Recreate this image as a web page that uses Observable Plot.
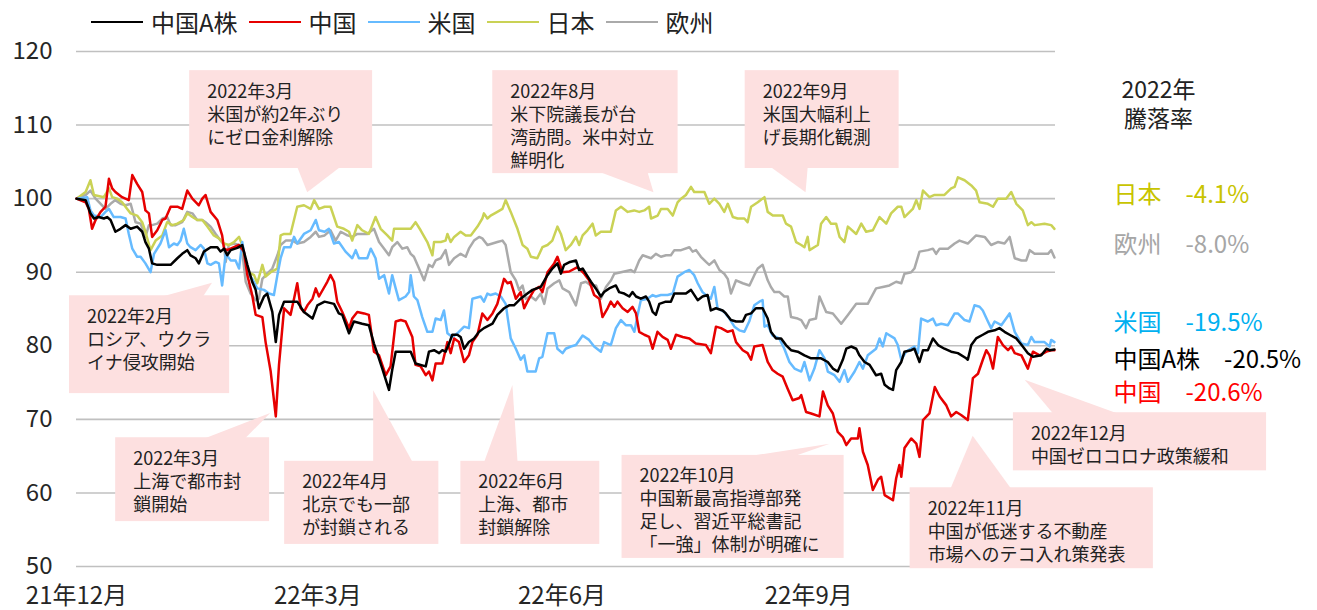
<!DOCTYPE html>
<html><head><meta charset="utf-8">
<script src="https://cdn.jsdelivr.net/npm/d3@7"></script>
<script src="https://cdn.jsdelivr.net/npm/@observablehq/plot@0.6"></script>
<style>
html,body{margin:0;padding:0;background:#fff;}
body{font-family:"Noto Sans CJK JP","Noto Sans",sans-serif;color:#222;}
#wrap{position:relative;width:1317px;height:610px;overflow:hidden;}
#legend{position:absolute;left:91px;top:8px;height:28px;display:flex;align-items:center;font-size:24px;line-height:28px;z-index:2;}
#legend .sw{display:inline-block;width:52px;height:0;border-top:2.5px solid;margin-right:8px;}
#legend .lb{margin-right:11px;color:#222;}
#chart{position:absolute;left:0;top:0;}
</style></head>
<body><div id="wrap"><div id="legend"></div><div id="chart"></div></div>
<script>
// ---- data (day offset from 2021-12-31, index value; start = 100) ----
const seriesNames = ["中国A株","中国","米国","日本","欧州"];
const seriesColors = ["#000000","#e60000","#66bbff","#cad255","#aaaaaa"];

const chinaA = [[0,100],[3.4,99.8],[5.2,98.0],[6.5,97.3],[8.3,97.5],[10.2,97.3],[11.4,97.5],[12.7,97.1],[14.5,95.5],[16.4,95.9],[18.3,96.4],[20.2,95.9],[22.6,96.2],[24.5,95.5],[25.7,94.1],[27.0,93.2],[28.2,91.2],[30.1,91.0],[35.1,91.0],[37.6,91.9],[39.4,92.5],[41.3,93.0],[42.5,92.3],[44.4,91.9],[45.6,91.2],[47.5,92.8],[50.0,93.4],[52.5,93.4],[53.7,92.8],[55.0,93.2],[56.2,92.3],[57.5,93.0],[60.0,93.3],[61.8,93.7],[63.7,91.0],[65.5,88.7],[66.8,87.6],[68.0,85.1],[69.9,86.7],[71.1,87.1],[73.0,84.6],[74.3,80.5],[75.5,84.2],[77.4,86.0],[82.3,86.0],[84.8,84.6],[88.0,83.7],[89.8,85.5],[92.5,86.0],[96.0,85.7],[97.8,84.4],[99.1,84.2],[101.6,81.7],[103.4,83.3],[106.5,83.0],[109.0,82.8],[110.9,80.3],[112.1,79.0],[114.0,76.9],[116.5,74.0],[117.7,76.7],[119.0,79.2],[124.6,79.2],[126.4,77.6],[130.2,77.2],[131.4,79.2],[133.3,79.4],[135.2,79.0],[136.4,79.4],[137.6,79.2],[138.9,80.3],[140.1,81.5],[142.0,81.5],[143.2,81.2],[144.5,79.6],[146.3,80.5],[148.2,81.0],[150.1,81.9],[151.9,82.4],[155.1,83.0],[156.9,84.2],[159.4,85.1],[161.3,85.5],[163.1,85.5],[165.6,86.4],[168.1,87.1],[170.0,87.6],[173.1,88.0],[175.6,89.6],[177.4,90.5],[179.3,91.2],[180.6,89.8],[181.8,91.0],[184.0,91.4],[186.2,91.6],[187.4,90.3],[188.7,90.5],[189.9,89.8],[191.8,88.7],[193.6,87.8],[195.5,86.7],[196.7,87.3],[198.6,87.8],[201.1,88.2],[202.3,87.3],[204.2,87.1],[206.1,86.7],[207.3,87.3],[208.6,86.7],[210.4,86.4],[212.3,86.7],[213.5,86.0],[214.8,84.6],[216.0,84.2],[217.3,85.7],[219.7,86.0],[221.6,86.0],[222.9,87.1],[227.2,87.1],[229.1,87.6],[231.6,86.2],[233.4,86.7],[235.3,86.9],[236.5,84.8],[238.4,85.1],[240.9,84.8],[242.1,84.4],[244.0,83.5],[245.9,83.3],[248.4,83.3],[249.6,84.2],[251.5,84.4],[253.3,85.1],[255.8,85.1],[257.7,83.7],[258.9,81.9],[260.8,81.0],[262.7,81.0],[264.5,80.1],[266.4,79.4],[268.9,79.2],[271.4,78.7],[273.9,78.3],[277.6,78.3],[280.1,77.8],[282.0,76.9],[283.8,76.5],[285.7,78.1],[287.0,79.6],[288.8,79.9],[290.7,79.6],[291.9,78.7],[293.8,77.8],[295.7,77.4],[298.1,76.0],[300.0,76.2],[301.3,74.7],[303.1,74.2],[304.4,74.0],[305.6,76.7],[307.5,77.8],[308.7,79.2],[311.2,79.4],[312.4,79.6],[314.3,77.8],[315.6,79.4],[317.4,79.4],[319.3,81.0],[321.2,80.1],[323.6,79.6],[326.1,79.2],[328.6,79.0],[331.7,78.3],[332.3,78.1],[333.6,80.1],[335.4,81.0],[337.9,81.5],[339.8,81.9],[342.3,82.1],[344.1,82.4],[346.0,81.9],[347.9,81.5],[350.4,81.0],[352.8,79.9],[354.7,79.0],[356.6,78.5],[359.7,78.7],[361.6,79.6],[362.8,79.4],[364.6,79.5]];

const china = [[0,100],[3.4,99.5],[4.6,98.6],[5.8,95.9],[7.1,97.1],[9.0,98.2],[10.8,98.9],[12.1,102.7],[13.3,101.4],[14.5,100.9],[17.0,100.2],[19.5,99.8],[20.8,103.2],[22.6,102.0],[24.5,100.9],[25.7,98.4],[27.0,98.0],[28.2,94.8],[30.1,95.7],[32.0,97.1],[33.2,97.3],[35.1,98.9],[37.6,98.9],[39.4,98.6],[41.3,101.1],[43.2,100.0],[45.6,99.1],[46.9,100.0],[48.1,100.5],[50.0,98.2],[52.5,97.1],[54.3,95.0],[55.0,93.2],[56.2,93.0],[58.7,93.4],[60.6,93.7],[62.4,92.8],[63.7,89.6],[65.5,86.9],[66.8,84.2],[69.3,83.9],[70.5,80.5],[72.4,76.5],[74.3,70.4],[75.5,77.4],[77.4,85.1],[79.8,84.2],[81.1,86.4],[82.3,88.5],[83.6,85.1],[84.8,84.6],[86.1,85.5],[88.0,86.4],[89.2,87.8],[90.4,86.7],[93.5,88.7],[94.7,89.6],[96.0,88.7],[97.2,86.0],[99.1,84.6],[101.6,82.4],[102.8,83.7],[104.7,84.6],[107.2,84.4],[109.0,84.2],[110.9,79.2],[112.8,78.7],[115.3,76.0],[117.1,77.2],[119.0,83.3],[120.9,83.5],[122.7,83.3],[125.2,81.2],[126.4,77.4],[128.3,77.2],[130.2,76.0],[131.4,76.5],[132.7,75.3],[133.9,77.6],[136.4,77.6],[138.3,80.5],[139.5,79.0],[140.8,81.0],[142.6,80.5],[144.5,77.8],[146.3,78.7],[147.6,80.5],[149.5,81.5],[151.3,84.4],[153.2,83.5],[155.1,84.4],[156.9,85.7],[159.4,89.1],[160.7,88.5],[161.9,88.7],[163.8,86.4],[165.6,87.3],[166.9,85.1],[168.1,86.0],[170.6,87.6],[172.5,88.0],[173.7,87.3],[175.6,90.0],[178.1,91.2],[179.3,92.1],[181.2,90.0],[183.7,90.1],[186.8,90.7],[189.3,89.8],[191.1,88.9],[193.0,86.9],[194.9,86.4],[196.1,83.9],[198.0,85.1],[199.2,86.0],[200.5,85.3],[201.7,86.0],[203.6,85.1],[205.5,84.6],[207.3,85.3],[208.6,84.4],[209.8,81.9],[211.7,81.5],[213.5,81.2],[214.8,79.6],[216.6,81.9],[218.5,81.2],[220.4,80.8],[221.6,79.6],[223.5,81.5],[226.0,81.2],[228.5,81.0],[230.9,80.3],[234.7,80.1],[236.5,79.0],[238.4,82.6],[240.3,82.4],[242.8,81.9],[244.6,82.1],[245.9,80.5],[248.4,79.4],[250.2,79.0],[251.5,78.1],[252.7,79.9],[255.8,80.1],[257.7,77.8],[259.5,76.7],[261.4,76.2],[263.3,75.8],[265.1,74.2],[267.0,72.6],[269.5,72.9],[270.2,73.3],[272.0,71.0],[273.9,70.8],[277.0,70.4],[278.3,73.8],[280.1,71.9],[282.0,70.8],[283.8,68.3],[285.7,67.6],[287.0,66.5],[288.8,67.4],[291.3,67.4],[291.9,68.8],[293.2,65.6],[295.0,63.8],[296.9,60.4],[298.8,61.8],[300.0,62.2],[301.3,59.7],[304.4,59.0],[305.6,62.0],[306.8,63.8],[307.5,62.2],[308.7,66.1],[311.2,67.4],[313.1,66.7],[314.3,64.9],[315.6,69.9],[318.0,70.8],[320.0,74.4],[321.8,73.1],[324.3,71.9],[326.1,70.4],[328.0,71.0],[329.8,70.6],[332.3,69.9],[334.2,75.6],[336.1,76.2],[337.9,78.1],[339.2,79.4],[340.4,78.7],[341.7,76.9],[343.5,81.2],[345.4,80.1],[347.3,79.4],[348.5,79.9],[349.8,79.0],[352.3,78.7],[354.7,76.9],[356.6,79.2],[359.1,78.7],[361.6,79.2],[363.4,79.4],[364.6,79.4]];

const us = [[0,100],[4.0,100.2],[5.2,98.4],[6.5,97.7],[9.0,97.5],[10.8,98.2],[12.1,98.6],[13.9,97.5],[16.4,97.5],[18.3,97.3],[19.5,95.2],[20.8,93.2],[22.6,92.1],[23.9,92.1],[25.7,91.2],[27.6,90.0],[28.9,92.5],[31.3,93.9],[33.2,95.7],[34.5,93.4],[36.3,93.9],[37.6,93.7],[38.8,94.3],[40.0,95.9],[41.3,93.9],[42.5,93.4],[44.4,93.0],[46.3,93.7],[47.5,93.2],[48.8,91.2],[50.0,91.0],[51.9,91.4],[53.1,91.2],[54.3,88.2],[55.6,92.5],[57.5,91.6],[59.3,91.6],[60.6,90.5],[61.8,94.1],[63.7,89.8],[65.5,89.1],[67.4,87.8],[69.9,87.6],[71.8,87.1],[73.6,86.9],[74.9,89.6],[76.1,91.9],[77.4,93.4],[79.8,93.4],[81.1,94.8],[82.3,93.9],[84.8,95.2],[87.3,95.7],[89.2,97.1],[90.4,95.7],[92.5,95.5],[94.1,95.9],[96.0,93.9],[97.8,94.1],[100.3,92.8],[102.8,91.9],[104.1,93.0],[105.3,91.9],[108.4,91.9],[109.7,93.2],[111.5,91.9],[112.8,89.1],[114.7,89.6],[116.5,87.1],[117.7,89.6],[119.0,87.8],[120.2,86.2],[122.7,86.7],[124.0,87.3],[124.6,89.6],[125.8,86.7],[127.1,86.2],[128.9,83.9],[130.8,81.9],[132.7,81.9],[133.9,83.7],[135.8,83.5],[137.0,84.8],[138.3,81.7],[140.1,81.2],[142.0,81.7],[144.5,82.6],[146.3,82.4],[147.6,86.4],[150.7,86.7],[151.9,86.0],[153.2,87.1],[154.4,86.9],[156.3,87.1],[158.2,86.7],[160.0,85.7],[161.9,81.0],[163.8,79.6],[165.6,78.1],[166.9,78.7],[168.1,76.5],[171.2,76.5],[172.5,78.3],[173.7,78.5],[175.6,81.7],[178.1,81.7],[179.3,79.6],[181.2,79.0],[182.4,79.6],[184.3,79.9],[186.2,80.1],[188.7,81.4],[191.1,80.8],[193.0,79.9],[195.5,79.2],[196.7,80.5],[199.2,80.1],[201.1,82.4],[203.0,83.5],[204.8,82.8],[206.7,82.8],[208.0,81.9],[209.2,84.2],[210.4,86.2],[212.9,86.4],[214.8,86.9],[216.0,86.7],[217.9,86.9],[220.4,86.9],[222.3,87.1],[224.1,89.4],[226.6,90.0],[228.5,90.3],[230.3,89.6],[231.6,88.5],[233.4,87.3],[235.3,86.7],[236.5,86.4],[237.8,88.0],[239.0,85.1],[241.5,84.6],[243.4,83.7],[245.3,82.6],[247.1,82.1],[249.0,81.9],[250.8,83.3],[252.7,85.5],[254.6,86.0],[255.8,86.2],[256.5,82.6],[257.7,82.8],[259.5,81.4],[262.0,81.0],[263.9,79.6],[265.8,77.8],[267.7,76.9],[270.2,76.5],[271.4,77.8],[273.3,75.3],[275.1,76.9],[277.0,79.4],[278.9,78.3],[280.1,76.5],[282.6,76.0],[284.5,75.1],[286.3,76.7],[287.6,75.1],[290.1,76.5],[291.9,77.8],[293.2,76.9],[295.0,78.7],[298.1,79.6],[299.4,81.0],[300.6,79.9],[301.9,81.7],[305.0,81.0],[306.2,80.1],[307.5,78.1],[309.3,79.2],[312.4,79.9],[313.7,79.0],[314.9,83.7],[317.4,83.3],[319.3,83.7],[320.5,82.8],[322.4,83.0],[324.9,82.8],[327.4,84.4],[328.6,84.4],[331.1,83.5],[332.9,83.3],[334.8,85.5],[336.7,85.3],[337.9,84.8],[339.8,83.3],[341.0,82.4],[342.3,83.3],[344.8,82.8],[347.9,84.4],[349.8,81.9],[352.3,80.3],[354.7,80.1],[356.0,81.2],[357.2,80.5],[360.9,80.5],[362.8,79.9],[363.4,80.8],[364.6,80.5]];

const japan = [[0,100],[3.4,100.9],[5.2,102.5],[6.5,100.5],[10.2,100.2],[12.1,101.4],[13.3,100.2],[15.2,100.0],[17.0,99.5],[18.9,98.6],[20.2,98.0],[22.6,97.7],[24.5,96.8],[25.7,95.5],[27.6,93.0],[29.5,94.3],[32.0,95.0],[33.8,96.8],[35.7,96.4],[37.6,96.6],[40.0,97.1],[41.3,98.0],[43.2,97.5],[45.0,97.1],[46.9,97.1],[48.8,96.2],[51.2,95.0],[53.1,94.6],[55.0,93.9],[56.8,93.7],[58.7,94.1],[60.6,94.8],[61.8,93.7],[62.4,92.3],[64.3,90.0],[66.2,89.6],[67.4,88.5],[69.3,91.0],[70.5,89.4],[72.4,90.0],[74.9,90.5],[76.1,95.0],[77.4,95.2],[79.8,95.2],[82.3,98.9],[84.8,99.1],[87.3,98.6],[88.6,99.8],[90.4,98.6],[92.5,98.9],[94.7,98.9],[97.2,96.2],[99.7,95.9],[101.6,95.5],[102.8,94.3],[104.7,96.4],[106.5,95.7],[109.0,95.2],[111.5,97.5],[113.4,95.9],[115.9,95.0],[117.7,94.3],[118.4,95.9],[120.9,95.9],[124.6,95.9],[126.4,96.8],[128.3,95.7],[130.8,94.1],[132.7,92.3],[133.3,94.1],[135.8,94.1],[137.6,94.3],[138.3,95.2],[139.5,94.1],[140.8,94.8],[143.2,95.5],[145.1,95.0],[147.0,95.0],[149.5,96.2],[151.3,97.3],[151.9,98.0],[153.2,97.3],[154.4,97.7],[156.9,98.2],[158.8,98.6],[160.0,99.8],[161.9,98.2],[164.4,95.9],[166.3,93.7],[168.1,93.2],[169.4,92.1],[171.8,91.9],[173.7,93.4],[175.6,93.7],[177.4,94.3],[179.3,96.2],[180.6,95.2],[182.4,93.0],[184.3,93.7],[186.2,94.8],[187.4,93.7],[188.7,95.0],[190.5,95.7],[192.4,96.6],[193.6,95.0],[195.5,95.5],[199.2,95.5],[201.1,98.4],[203.0,98.9],[205.5,98.2],[207.9,98.4],[209.8,98.2],[211.7,98.4],[213.5,98.9],[214.2,97.3],[216.7,97.7],[217.9,98.6],[220.4,98.6],[222.3,97.7],[224.1,99.5],[225.4,100.0],[227.2,100.5],[229.1,101.6],[230.3,100.9],[234.1,100.9],[235.9,99.3],[237.8,100.0],[239.7,99.3],[241.5,98.2],[242.8,99.3],[244.7,97.5],[246.5,97.3],[249.0,97.3],[250.2,96.8],[251.5,98.9],[254.0,99.5],[256.5,100.2],[257.7,98.2],[259.6,97.7],[263.3,97.7],[264.5,96.6],[266.4,96.2],[268.3,94.1],[270.2,93.7],[271.4,93.4],[272.6,94.8],[273.3,93.0],[276.4,93.7],[277.6,96.6],[279.5,97.5],[281.3,96.6],[283.2,96.6],[284.5,94.8],[286.3,94.1],[287.6,96.2],[290.7,95.2],[292.6,96.6],[294.4,95.5],[296.9,95.7],[299.4,97.5],[301.9,96.6],[303.7,98.0],[306.2,98.9],[307.5,98.9],[308.7,97.5],[311.8,98.6],[313.1,99.8],[314.3,98.6],[315.6,101.1],[318.0,100.2],[319.9,100.5],[323.6,100.5],[326.1,101.4],[327.4,101.6],[328.6,102.9],[331.1,102.5],[333.6,101.8],[335.4,101.1],[336.7,99.5],[339.8,99.3],[341.7,98.9],[343.5,100.0],[346.6,100.0],[348.5,100.9],[350.4,99.3],[352.8,98.4],[354.7,96.4],[356.0,96.8],[357.2,96.4],[360.9,96.6],[363.4,96.4],[364.6,95.9]];

const europe = [[0,100],[3.4,100.5],[5.2,101.1],[7.1,100.0],[9.0,99.3],[10.8,98.6],[12.7,99.3],[14.5,99.8],[16.4,99.3],[18.3,99.1],[20.2,99.3],[22.0,96.8],[23.9,96.6],[25.7,94.8],[27.0,96.4],[28.2,96.4],[30.1,96.6],[32.0,97.3],[33.8,97.5],[35.1,96.4],[37.0,96.4],[39.4,96.8],[41.3,98.2],[43.2,98.0],[45.0,97.1],[46.9,97.1],[48.1,96.8],[50.0,96.2],[51.9,95.2],[53.7,94.3],[55.0,93.7],[55.6,91.4],[56.8,93.7],[58.7,93.9],[60.6,93.7],[61.8,92.8],[63.1,88.7],[64.9,87.1],[66.8,86.2],[68.0,86.4],[69.3,89.1],[71.1,89.8],[73.0,90.5],[74.9,92.3],[76.1,93.7],[78.0,94.3],[80.5,94.3],[82.3,93.9],[84.8,94.1],[87.3,94.8],[89.2,95.5],[90.4,94.8],[92.5,95.0],[94.7,95.7],[96.6,94.3],[98.5,95.5],[101.0,95.0],[102.8,94.8],[104.7,95.2],[108.4,95.2],[110.9,95.9],[112.8,94.1],[114.7,93.2],[116.5,92.3],[117.7,93.4],[119.6,94.1],[121.5,93.2],[123.3,93.4],[124.6,92.5],[125.8,92.1],[127.1,91.0],[129.6,88.9],[131.4,91.0],[132.7,90.7],[133.9,91.6],[135.8,91.9],[137.6,93.0],[138.9,91.0],[140.8,91.9],[143.2,92.5],[145.1,92.1],[146.3,93.2],[148.2,94.3],[150.1,94.8],[151.3,94.6],[153.2,93.7],[155.1,93.9],[156.9,94.1],[158.8,94.3],[160.0,93.7],[161.9,90.0],[163.8,88.9],[165.0,87.6],[166.3,88.2],[167.5,86.4],[169.4,86.7],[171.2,86.2],[173.1,87.1],[174.4,85.7],[175.6,87.8],[178.1,88.5],[180.0,88.9],[181.2,87.8],[183.7,87.3],[186.2,85.5],[188.1,88.5],[189.9,88.7],[191.8,88.2],[193.7,88.2],[195.5,86.4],[197.4,88.0],[199.3,88.9],[200.5,89.8],[203.0,90.0],[206.7,90.3],[208.0,90.0],[209.8,91.6],[211.1,92.3],[214.2,91.9],[216.0,92.5],[217.9,92.1],[219.8,92.3],[221.6,92.3],[222.9,93.0],[225.4,93.0],[228.5,93.4],[229.7,92.8],[231.0,93.0],[232.8,92.1],[234.7,91.4],[235.9,91.0],[237.8,91.6],[239.7,90.3],[241.5,89.8],[242.8,89.1],[244.0,87.1],[245.9,88.9],[248.4,88.5],[250.9,88.2],[252.7,89.6],[254.0,90.5],[255.8,91.0],[257.7,88.9],[258.9,88.0],[260.2,87.3],[262.1,87.3],[263.9,86.7],[265.2,86.7],[266.4,83.9],[268.9,83.7],[270.2,83.5],[272.0,82.4],[273.3,83.5],[275.7,83.7],[277.0,86.7],[279.5,84.6],[282.0,84.4],[285.1,83.0],[287.6,84.2],[290.7,85.7],[293.2,85.7],[295.0,85.7],[298.1,87.8],[300.6,88.0],[303.1,88.2],[305.6,88.7],[307.5,88.5],[308.7,89.8],[311.2,90.0],[312.4,90.5],[314.3,92.8],[317.4,93.0],[319.3,93.2],[320.5,92.5],[321.8,93.2],[324.9,93.2],[327.4,93.9],[329.2,94.3],[332.3,93.9],[335.4,95.0],[338.6,94.8],[341.0,93.7],[343.5,94.1],[346.0,93.9],[347.9,94.8],[349.8,91.9],[352.3,91.6],[354.1,91.6],[355.4,93.0],[357.2,92.5],[359.7,92.5],[362.2,92.5],[363.4,93.0],[364.6,92.0]];

// axis ticks
const xTickDates = ["2021-12-31","2022-03-31","2022-06-30","2022-09-30"];
const xTickLabels = ["21年12月","22年3月","22年6月","22年9月"];
const yTicks = [50,60,70,80,90,100,110,120];

// 2022 change labels (right side)
const changeNames = ["日本","欧州","米国","中国A株","中国"];
const changeValues = ["-4.1%","-8.0%","-19.5%","-20.5%","-20.6%"];
const changeColors = ["#c8c400","#a6a6a6","#00b0f0","#000000","#ff0000"];
const changeLabelY = [100.4,93.6,83.0,78.0,73.5];
const headerText = "2022年\n騰落率";
const headerY = 113.0;

// callout annotations (box: [day1, day2, valueTop, valueBottom]; pointer base days; tip [day, value])
const callouts = [
  {lines:["2022年3月","米国が約2年ぶり","にゼロ金利解除"], box:[42.2,110.4,117.4,104.1], base:[82.5,98.5], tip:[86.2,100.8]},
  {lines:["2022年2月","ロシア、ウクラ","イナ侵攻開始"], box:[-2.6,57.1,86.8,73.5], base:[32.5,47.4], tip:[50.7,88.5]},
  {lines:["2022年3月","上海で都市封","鎖開始"], box:[14.6,72.0,67.5,56.1], base:[48.1,63.1], tip:[72.4,70.8]},
  {lines:["2022年4月","北京でも一部","が封鎖される"], box:[77.6,135.1,64.3,53.0], base:[110.8,125.4], tip:[110.8,73.9]},
  {lines:["2022年6月","上海、都市","封鎖解除"], box:[143.3,195.1,64.3,53.0], base:[152.2,164.6], tip:[162.7,74.6]},
  {lines:["2022年10月","中国新最高指導部発","足し、習近平総書記","「一強」体制が明確に"], box:[203.4,286.2,65.1,51.1], base:[251.5,268.0], tip:[281.0,66.6]},
  {lines:["2022年11月","中国が低迷する不動産","市場へのテコ入れ策発表"], box:[310.8,401.5,60.7,49.7], base:[326.1,348.5], tip:[334.3,67.7]},
  {lines:["2022年12月","中国ゼロコロナ政策緩和"], box:[349.3,443.7,70.9,63.0], base:[364.2,388.1], tip:[353.7,75.3]},
  {lines:["2022年8月","米下院議長が台","湾訪問。米中対立","鮮明化"], box:[155.2,224.3,117.4,103.4], base:[195.5,213.1], tip:[215.3,100.8]},
  {lines:["2022年9月","米国大幅利上","げ長期化観測"], box:[249.3,306.7,117.4,104.1], base:[259.0,272.8], tip:[272.0,100.8]}
];

// ---- build ----
const t0 = Date.UTC(2021, 11, 31);
const toDate = d => new Date(t0 + d * 864e5);
const seriesData = [chinaA, china, us, japan, europe];
const drawOrder = [4, 3, 2, 1, 0];
const rows = [];
for (const i of drawOrder) for (const [d, v] of seriesData[i]) rows.push({name: seriesNames[i], date: toDate(d), value: v});
const tickDates = xTickDates.map(s => new Date(s + "T00:00:00Z"));
const tickLabelMap = new Map(tickDates.map((d, i) => [+d, xTickLabels[i]]));

function calloutMark(index, scales) {
  const g = d3.create("svg:g").attr("text-anchor", "start");
  const X = d => scales.x(toDate(d)), Y = v => scales.y(v);
  for (const c of callouts) {
    const x1 = X(c.box[0]), x2 = X(c.box[1]), yTop = Y(c.box[2]), yBot = Y(c.box[3]);
    const tx = X(c.tip[0]), ty = Y(c.tip[1]);
    const b1 = X(c.base[0]), b2 = X(c.base[1]);
    const up = ty < yTop;
    const edge = up ? yTop + 1 : yBot - 1;
    g.append("rect").attr("x", x1).attr("y", yTop).attr("width", x2 - x1).attr("height", yBot - yTop).attr("fill", "#fde0e0");
    g.append("path").attr("d", `M${b1},${edge}L${tx},${ty}L${b2},${edge}Z`).attr("fill", "#fde0e0");
    const text = g.append("text").attr("x", x1 + 18).attr("y", yTop + 21).attr("text-anchor", "start")
      .attr("font-size", 18).attr("fill", "#222");
    c.lines.forEach((t, i) => {
      text.append("tspan").attr("x", x1 + 18).attr("dy", i === 0 ? "0.36em" : 23).text(t);
    });
  }
  return g.node();
}

const marks = [
  Plot.gridY(yTicks, {stroke: "#c0c0c0", strokeOpacity: 1, strokeWidth: 1.6}),
  calloutMark,
  Plot.lineY(rows, {x: "date", y: "value", z: "name", stroke: "name", strokeWidth: 2.5, strokeLinejoin: "round"}),
  Plot.text([headerText], {y: () => headerY, text: d => d, frameAnchor: "right", dx: 103, textAnchor: "middle", lineAnchor: "middle", lineHeight: 1.26, fontSize: 23, fill: "#222"})
];
changeNames.forEach((n, i) => {
  marks.push(Plot.text([n], {y: () => changeLabelY[i], text: d => `${d}\u3000${changeValues[i]}`, frameAnchor: "right", dx: 58, textAnchor: "start", fontSize: 24, fill: changeColors[i]}));
});

const chart = Plot.plot({
  width: 1317, height: 610,
  marginLeft: 76, marginRight: 262, marginTop: 51, marginBottom: 44,
  style: {fontFamily: '"Noto Sans CJK JP","Noto Sans",sans-serif', fontSize: "24px", color: "#262626", background: "#fff", overflow: "visible"},
  x: {type: "utc", domain: [toDate(0), toDate(365)], ticks: tickDates, tickFormat: d => tickLabelMap.get(+d), tickSize: 0, tickPadding: 20, label: null},
  y: {domain: [50, 120], ticks: yTicks, tickSize: 0, tickPadding: 24, label: null},
  color: {domain: seriesNames, range: seriesColors},
  marks
});
document.getElementById("chart").appendChild(chart);

// legend
const legend = document.getElementById("legend");
seriesNames.forEach((n, i) => {
  const sw = document.createElement("span"); sw.className = "sw"; sw.style.borderTopColor = seriesColors[i];
  const lb = document.createElement("span"); lb.className = "lb"; lb.textContent = n;
  legend.appendChild(sw); legend.appendChild(lb);
});
</script></body></html>
